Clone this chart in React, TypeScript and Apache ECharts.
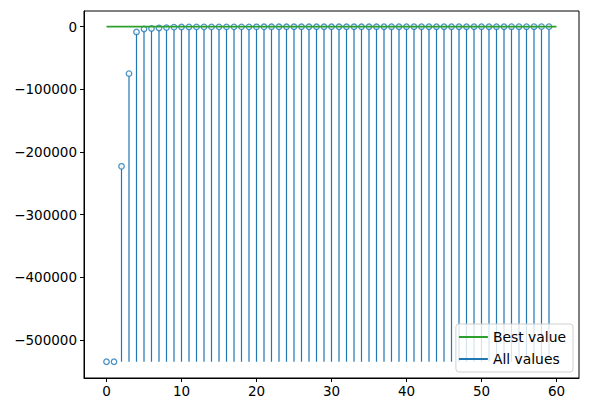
import React, { useEffect, useRef } from "react";
import * as echarts from "echarts";

const iterations: number[] = Array.from({ length: 60 }, (_, i) => i);
const allValues: number[] = [
  -535000, -535000, -223000, -75000, -8500, -3800, -3000, -2100, -1500, -800,
  -500, -450, -400, -380, -350, -330, -300, -290, -280, -260,
  -250, -240, -230, -220, -210, -200, -195, -190, -185, -180,
  -175, -170, -165, -160, -155, -150, -145, -140, -135, -130,
  -125, -120, -115, -110, -105, -100, -95, -90, -85, -80,
  -75, -70, -65, -60, -55, -50, -45, -40, -35, -30,
];
const bestX: number[] = [0, 60];
const bestY: number[] = [0, 0];
const xTicks: number[] = [0, 10, 20, 30, 40, 50, 60];
const yTicks: number[] = [-500000, -400000, -300000, -200000, -100000, 0];

const BLUE = "#1f77b4";
const GREEN = "#2ca02c";
const FONT = "DejaVu Sans";

export default function App() {
  const ref = useRef<HTMLDivElement>(null);
  useEffect(() => {
    if (!ref.current) return;
    const chart = echarts.init(ref.current, undefined, { renderer: "svg" });
    const base = Math.min(...allValues);
    const pts = iterations.map((x, i) => [x, allValues[i]]);
    const fmt = (v: number) => (v < 0 ? "\u2212" + String(-v) : String(v));
    chart.setOption({
      animation: false,
      backgroundColor: "#fff",
      grid: {
        left: 84,
        right: 10,
        top: 11,
        bottom: 35,
        show: true,
        borderColor: "#000",
        borderWidth: 1,
        backgroundColor: "transparent",
      },
      xAxis: {
        type: "value",
        min: -3,
        max: 63,
        splitLine: { show: false },
        axisLine: { show: true, onZero: false, lineStyle: { color: "#000", width: 1 } },
        axisTick: {
          show: true,
          length: 4,
          customValues: xTicks,
          lineStyle: { color: "#000", width: 1 },
        },
        axisLabel: {
          customValues: xTicks,
          color: "#000",
          fontFamily: FONT,
          fontSize: 13.5,
          margin: 6,
          formatter: fmt,
        },
      },
      yAxis: {
        type: "value",
        min: -561000,
        max: 25000,
        splitLine: { show: false },
        axisLine: { show: true, onZero: false, lineStyle: { color: "#000", width: 1 } },
        axisTick: {
          show: true,
          length: 4,
          customValues: yTicks,
          lineStyle: { color: "#000", width: 1 },
        },
        axisLabel: {
          customValues: yTicks,
          color: "#000",
          fontFamily: FONT,
          fontSize: 13.5,
          margin: 7,
          formatter: fmt,
        },
      },
      legend: {
        orient: "vertical",
        right: 16,
        bottom: 41,
        itemWidth: 29,
        itemHeight: 2,
        itemGap: 8,
        padding: [6, 7, 6, 3],
        backgroundColor: "rgba(255,255,255,0.8)",
        borderColor: "#d0d0d0",
        borderWidth: 1,
        borderRadius: 3,
        textStyle: { color: "#000", fontFamily: FONT, fontSize: 13.9 },
        data: [
          { name: "Best value", icon: "rect", itemStyle: { color: GREEN } },
          { name: "All values", icon: "rect", itemStyle: { color: BLUE } },
        ],
      },
      series: [
        {
          name: "All values",
          type: "custom",
          data: pts,
          z: 2,
          renderItem: (params: any, api: any) => {
            const x = api.value(0);
            const y = api.value(1);
            const p1 = api.coord([x, base]);
            const p2 = api.coord([x, y]);
            return {
              type: "line",
              shape: { x1: p1[0], y1: p1[1], x2: p2[0], y2: p2[1] },
              style: { stroke: BLUE, lineWidth: 1.2 },
            };
          },
        },
        {
          name: "All values",
          type: "scatter",
          data: pts,
          symbol: "circle",
          symbolSize: 5.5,
          z: 3,
          itemStyle: { color: "#fff", borderColor: BLUE, borderWidth: 1.3 },
        },
        {
          name: "Best value",
          type: "line",
          data: bestX.map((x, i) => [x, bestY[i]]),
          showSymbol: false,
          symbol: "none",
          z: 4,
          lineStyle: { color: GREEN, width: 1.6 },
          itemStyle: { color: GREEN },
        },
      ],
    });
    return () => chart.dispose();
  }, []);
  return (
    <div
      ref={ref}
      style={{ position: "absolute", left: 0, top: 0, width: 589, height: 413 }}
    />
  );
}
